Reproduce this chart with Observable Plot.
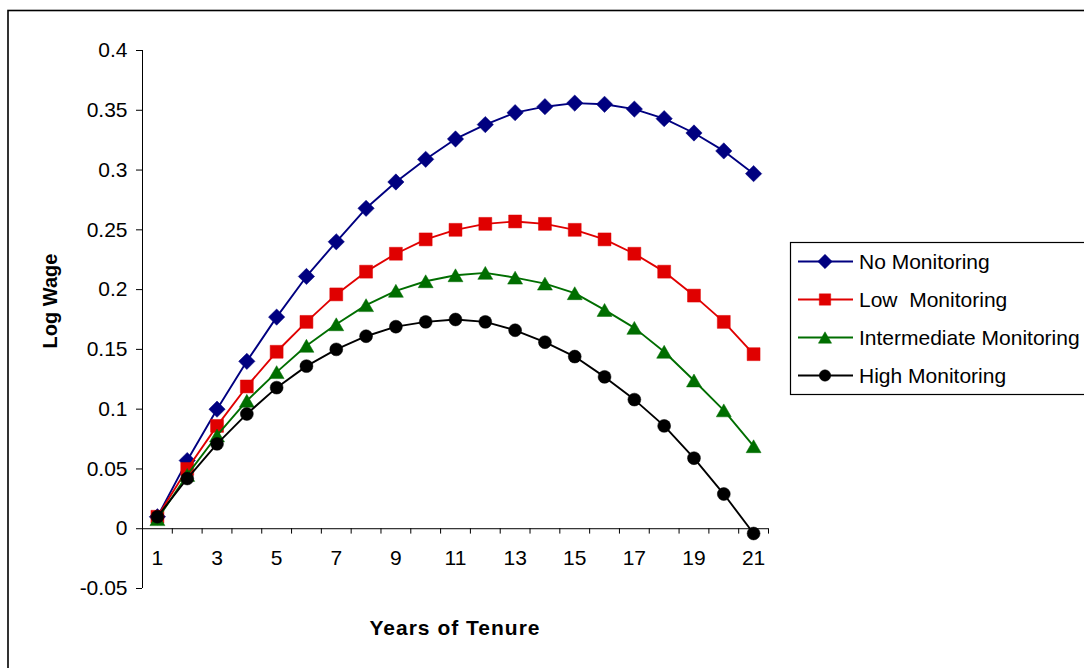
<!DOCTYPE html>
<html>
<head>
<meta charset="utf-8">
<script src="https://cdn.jsdelivr.net/npm/d3@7"></script>
<script src="https://cdn.jsdelivr.net/npm/@observablehq/plot@0.6"></script>
<style>
  html, body { margin: 0; padding: 0; background: #fff; }
  #chart { width: 1084px; height: 668px; overflow: hidden; }
</style>
</head>
<body>
<div id="chart"></div>
<script>
// ---- data ----
const years = [1,2,3,4,5,6,7,8,9,10,11,12,13,14,15,16,17,18,19,20,21];
const xTickLabels = [1,3,5,7,9,11,13,15,17,19,21];
const yTicks = [-0.05,0,0.05,0.1,0.15,0.2,0.25,0.3,0.35,0.4];
const seriesNames = ["No Monitoring", "Low  Monitoring", "Intermediate Monitoring", "High Monitoring"];
const noMonitoring = [0.010,0.057,0.100,0.140,0.177,0.211,0.240,0.268,0.290,0.309,0.326,0.338,0.348,0.353,0.356,0.355,0.351,0.343,0.331,0.316,0.297];
const lowMonitoring = [0.010,0.050,0.086,0.119,0.148,0.173,0.196,0.215,0.230,0.242,0.250,0.255,0.257,0.255,0.250,0.242,0.230,0.215,0.195,0.173,0.146];
const intermediateMonitoring = [0.008,0.045,0.078,0.107,0.131,0.153,0.171,0.187,0.199,0.207,0.212,0.214,0.210,0.205,0.197,0.183,0.168,0.148,0.124,0.099,0.069];
const highMonitoring = [0.010,0.042,0.071,0.096,0.118,0.136,0.150,0.161,0.169,0.173,0.175,0.173,0.166,0.156,0.144,0.127,0.108,0.086,0.059,0.029,-0.004];
const seriesValues = [noMonitoring, lowMonitoring, intermediateMonitoring, highMonitoring];
const seriesColors = ["#000080", "#e00000", "#006e00", "#000000"];

// ---- marker shapes (half-extent in px = k * radius) ----
const diamond = { draw(ctx, size) { const s = Math.sqrt(size / Math.PI) * 1.2; ctx.moveTo(0,-s); ctx.lineTo(s,0); ctx.lineTo(0,s); ctx.lineTo(-s,0); ctx.closePath(); } };
const square = { draw(ctx, size) { const s = Math.sqrt(size / Math.PI) * 0.95; ctx.rect(-s,-s,2*s,2*s); } };
const triangle = { draw(ctx, size) { const s = Math.sqrt(size / Math.PI); const w = s*1.1, h = s*0.95; ctx.moveTo(0,-h); ctx.lineTo(w,h); ctx.lineTo(-w,h); ctx.closePath(); } };
const circle = { draw(ctx, size) { const s = Math.sqrt(size / Math.PI) * 0.95; ctx.moveTo(s,0); ctx.arc(0,0,s,0,2*Math.PI); } };
const seriesSymbols = [diamond, square, triangle, circle];

const rows = [];
seriesNames.forEach((name, i) => years.forEach((yr, j) => rows.push({series: name, year: yr, value: seriesValues[i][j]})));
const boundaries = [0.5].concat(years.map(y => y + 0.5));

const font = "'Liberation Sans', Arial, Helvetica, sans-serif";
const fmt = d => String(+d.toFixed(2));

const seriesMarks = [];
seriesNames.forEach(name => {
  const sub = rows.filter(r => r.series === name);
  seriesMarks.push(Plot.line(sub, {x: "year", y: "value", stroke: "series", strokeWidth: 1.9}));
  seriesMarks.push(Plot.dot(sub, {x: "year", y: "value", symbol: "series", fill: "series", stroke: "series", strokeWidth: 0.5, r: 6.8}));
});

const plot = Plot.plot({
  width: 1084, height: 668,
  marginLeft: 142, marginRight: 316, marginTop: 50, marginBottom: 80,
  style: {fontFamily: font, fontSize: "21px", background: "#fff", color: "#000"},
  x: {domain: [0.5, 21.5], axis: null},
  y: {domain: [-0.05, 0.4], axis: null},
  color: {domain: seriesNames, range: seriesColors},
  symbol: {domain: seriesNames, range: seriesSymbols},
  marks: [
    Plot.ruleX([0.5], {y1: -0.05, y2: 0.4, stroke: "#000", strokeWidth: 1}),
    Plot.axisY({ticks: yTicks, tickSize: 6, tickPadding: 9, tickFormat: fmt, fontSize: 21, label: null, stroke: "#000"}),
    Plot.ruleY([0], {x1: 0.5, x2: 21.5, stroke: "#000", strokeWidth: 1}),
    Plot.ruleX(boundaries, {x: d => d, y1: 0, y2: -0.0045, stroke: "#000", strokeWidth: 1}),
    Plot.text(xTickLabels, {x: d => d, y: 0, text: d => String(d), dy: 30, fontSize: 21, fill: "#000"}),
    ...seriesMarks
  ]
});

const svg = d3.select(plot);
// outer border
svg.insert("rect", ":first-child").attr("x", 8).attr("y", 10.5).attr("width", 1200).attr("height", 800)
  .attr("fill", "none").attr("stroke", "#000").attr("stroke-width", 1.6);

// axis titles
svg.append("text").attr("x", 455).attr("y", 635).attr("text-anchor", "middle")
  .attr("font-family", font).attr("font-size", 21).attr("font-weight", "bold").attr("letter-spacing", 1)
  .attr("fill", "#000").text("Years of Tenure");
svg.append("text").attr("transform", "translate(57,301) rotate(-90)").attr("text-anchor", "middle")
  .attr("font-family", font).attr("font-size", 20).attr("font-weight", "bold")
  .attr("fill", "#000").text("Log Wage");

// legend
const lg = svg.append("g");
lg.append("rect").attr("x", 790.5).attr("y", 242.5).attr("width", 400).attr("height", 152)
  .attr("fill", "#fff").attr("stroke", "#000").attr("stroke-width", 1.2);
const rowY = [261.5, 299.5, 337.5, 375.5];
seriesNames.forEach((name, i) => {
  const y = rowY[i];
  lg.append("line").attr("x1", 798).attr("x2", 853).attr("y1", y).attr("y2", y)
    .attr("stroke", seriesColors[i]).attr("stroke-width", 1.8);
  lg.append("path").attr("transform", `translate(825,${y})`)
    .attr("d", d3.symbol().type(seriesSymbols[i]).size(Math.PI * 36)())
    .attr("fill", seriesColors[i]).attr("stroke", seriesColors[i]).attr("stroke-width", 0.5);
  lg.append("text").attr("x", 859).attr("y", y + 7.5).attr("text-anchor", "start")
    .attr("font-family", font).attr("font-size", 21)
    .attr("fill", "#000").attr("xml:space", "preserve").style("white-space", "pre").text(name);
});

document.getElementById("chart").appendChild(plot);
</script>
</body>
</html>
